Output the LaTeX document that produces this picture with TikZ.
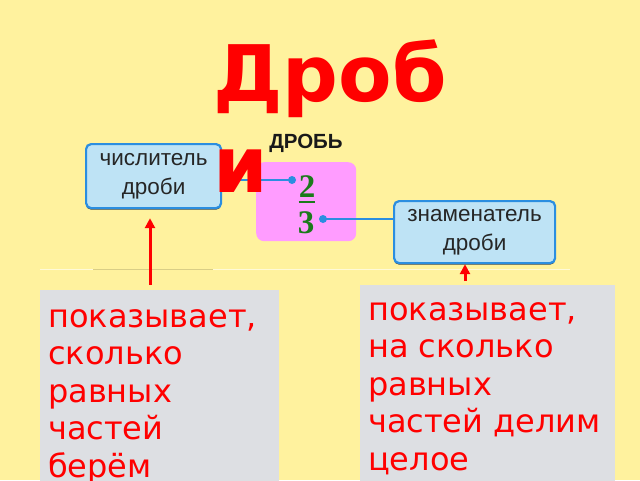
\documentclass[tikz,border=0pt]{standalone}
\usepackage{fontspec}
\setmainfont{DejaVu Sans}
\newfontfamily\labfont{Liberation Sans}
\newfontfamily\serfont{Liberation Serif}
\usetikzlibrary{arrows.meta,shadows}
\definecolor{bgc}{HTML}{FFF29E}
\definecolor{boxfill}{HTML}{BEE3F5}
\definecolor{boxline}{HTML}{2B8EE0}
\definecolor{pinkc}{HTML}{FF9CFF}
\definecolor{grayc}{HTML}{DDDFE3}
\definecolor{greenc}{HTML}{1B7A1B}
\definecolor{redc}{HTML}{FF0000}
\definecolor{linec}{HTML}{2B8EE0}
\tikzset{
  bluebox/.style={draw=boxline, line width=2.2pt, fill=boxfill, rounded corners=5pt,
    drop shadow={shadow xshift=0pt, shadow yshift=-1.6pt, fill=black!75, opacity=1},
    align=center, inner sep=0pt, text=black!85,
    font=\labfont\fontsize{22.5}{29}\selectfont},
  graybox/.style={fill=grayc, inner sep=0pt},
  redtext/.style={text=redc, align=left, inner sep=0pt, font=\fontsize{32}{37.5}\selectfont},
  digit/.style={text=greenc, inner sep=0pt, font=\serfont\bfseries\fontsize{33}{33}\selectfont},
  connector/.style={draw=linec, line width=2pt},
  dot/.style={fill=linec},
  redarrow/.style={draw=redc, line width=3pt, -{Triangle[length=10pt,width=10pt]}},
}
\begin{document}
\begin{tikzpicture}[x=1pt,y=-1pt]
\clip (0,0) rectangle (640,480);
\fill[bgc] (0,0) rectangle (640,480);
% faint separator
\draw[color=white!60!bgc, line width=1pt] (40,269) -- (570,269);
\draw[color=black!15!bgc, line width=1pt] (93,269) -- (213,269);
% boxes
\node[bluebox, minimum width=135pt, minimum height=64pt, anchor=north west] (num) at (85,143) {числитель\\дроби};
\node[bluebox, minimum width=161pt, minimum height=62pt, anchor=north west] (den) at (393,200) {знаменатель\\дроби};
\node[fill=pinkc, rounded corners=8pt, minimum width=100pt, minimum height=79pt, anchor=north west, inner sep=0pt] (frac) at (256,162) {};
\node[inner sep=0pt, text=black!90, font=\labfont\bfseries\fontsize{20.5}{20.5}\selectfont] (lbl) at (306,143) {ДРОБЬ};
\node[digit] (two) at (307,186.5) {2};
\node[digit] (three) at (306,223) {3};
\draw[draw=greenc, line width=2.5pt] (two.south west |- 0,202) -- (two.south east |- 0,202);
% dots and connectors
\coordinate (d1) at (292,180);
\coordinate (d2) at (323,219);
\draw[connector] (num.east |- d1) -- (d1);
\draw[connector] (d2) -- (den.west |- d2);
\fill[dot] (d1) circle (4pt);
\fill[dot] (d2) circle (4pt);
% gray boxes
\node[graybox, minimum width=239pt, minimum height=200pt, anchor=north west] (lg) at (40,290) {};
\node[graybox, minimum width=255pt, minimum height=200pt, anchor=north west] (rg) at (360,285) {};
\node[redtext, anchor=north west] (lt) at (48,309) {показывает,\\сколько\\равных\\частей\\берём};
\node[redtext, anchor=north west] (rt) at (368,302) {показывает,\\на сколько\\равных\\частей делим\\целое};
% arrows
\coordinate (la) at (150,285);
\coordinate (ra) at (465,281);
\draw[redarrow, shorten >=9pt] (la) -- (la |- num.south);
\draw[redarrow] (ra) -- (ra |- den.south);
% title
\node[text=redc, anchor=north west, align=left, inner sep=0pt, font=\bfseries\fontsize{78}{91}\selectfont] (title) at (213,39) {Дроб\\и};
\end{tikzpicture}
\end{document}
